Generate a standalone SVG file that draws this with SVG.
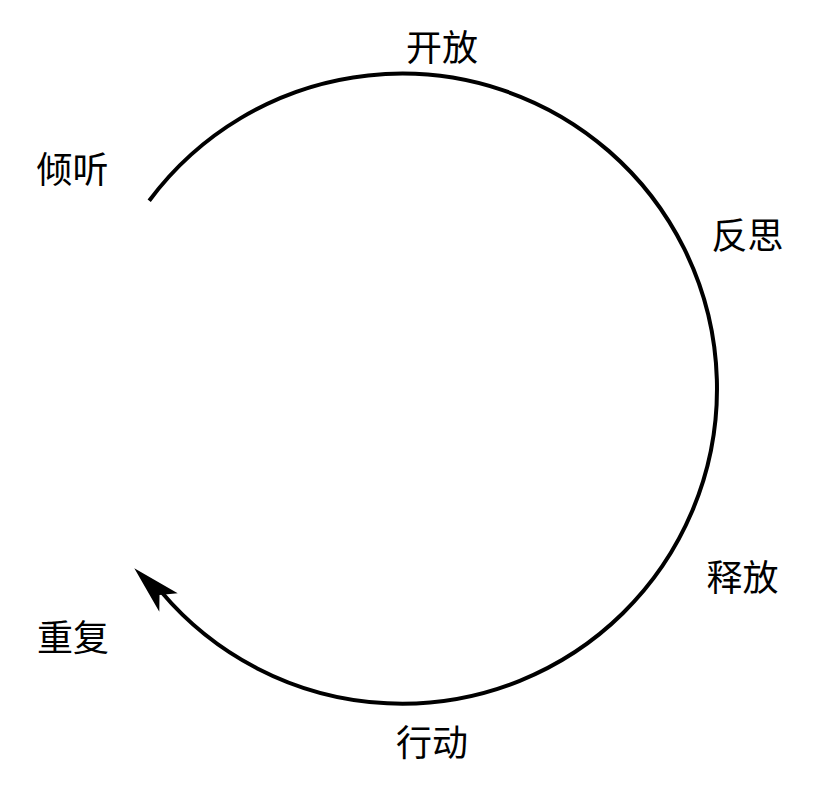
<svg xmlns="http://www.w3.org/2000/svg" width="814" height="793" viewBox="0 0 814 793">
<style>
.lbl{font-family:"Noto Sans CJK SC","Noto Sans",sans-serif;font-size:36px;fill:#000;text-anchor:middle}
.cyc{fill:none;stroke:#000;stroke-width:4}
</style>
<rect width="814" height="793" fill="#fff"/>
<g id="connectors">
<path class="cyc" d="M149.2,200.7 A315,315 0 1 1 161,591.5"/>
<polygon points="134.3,568.3 177.7,593.3 159.5,595 159.3,611.7" fill="#000"/>
</g>
<g id="n-open"><text class="lbl" x="442" y="61">开放</text></g>
<g id="n-listen"><text class="lbl" x="72.5" y="183">倾听</text></g>
<g id="n-reflect"><text class="lbl" x="747.5" y="249">反思</text></g>
<g id="n-release"><text class="lbl" x="742.5" y="590.5">释放</text></g>
<g id="n-act"><text class="lbl" x="432" y="755.5">行动</text></g>
<g id="n-repeat"><text class="lbl" x="73" y="650.5">重复</text></g>
</svg>
